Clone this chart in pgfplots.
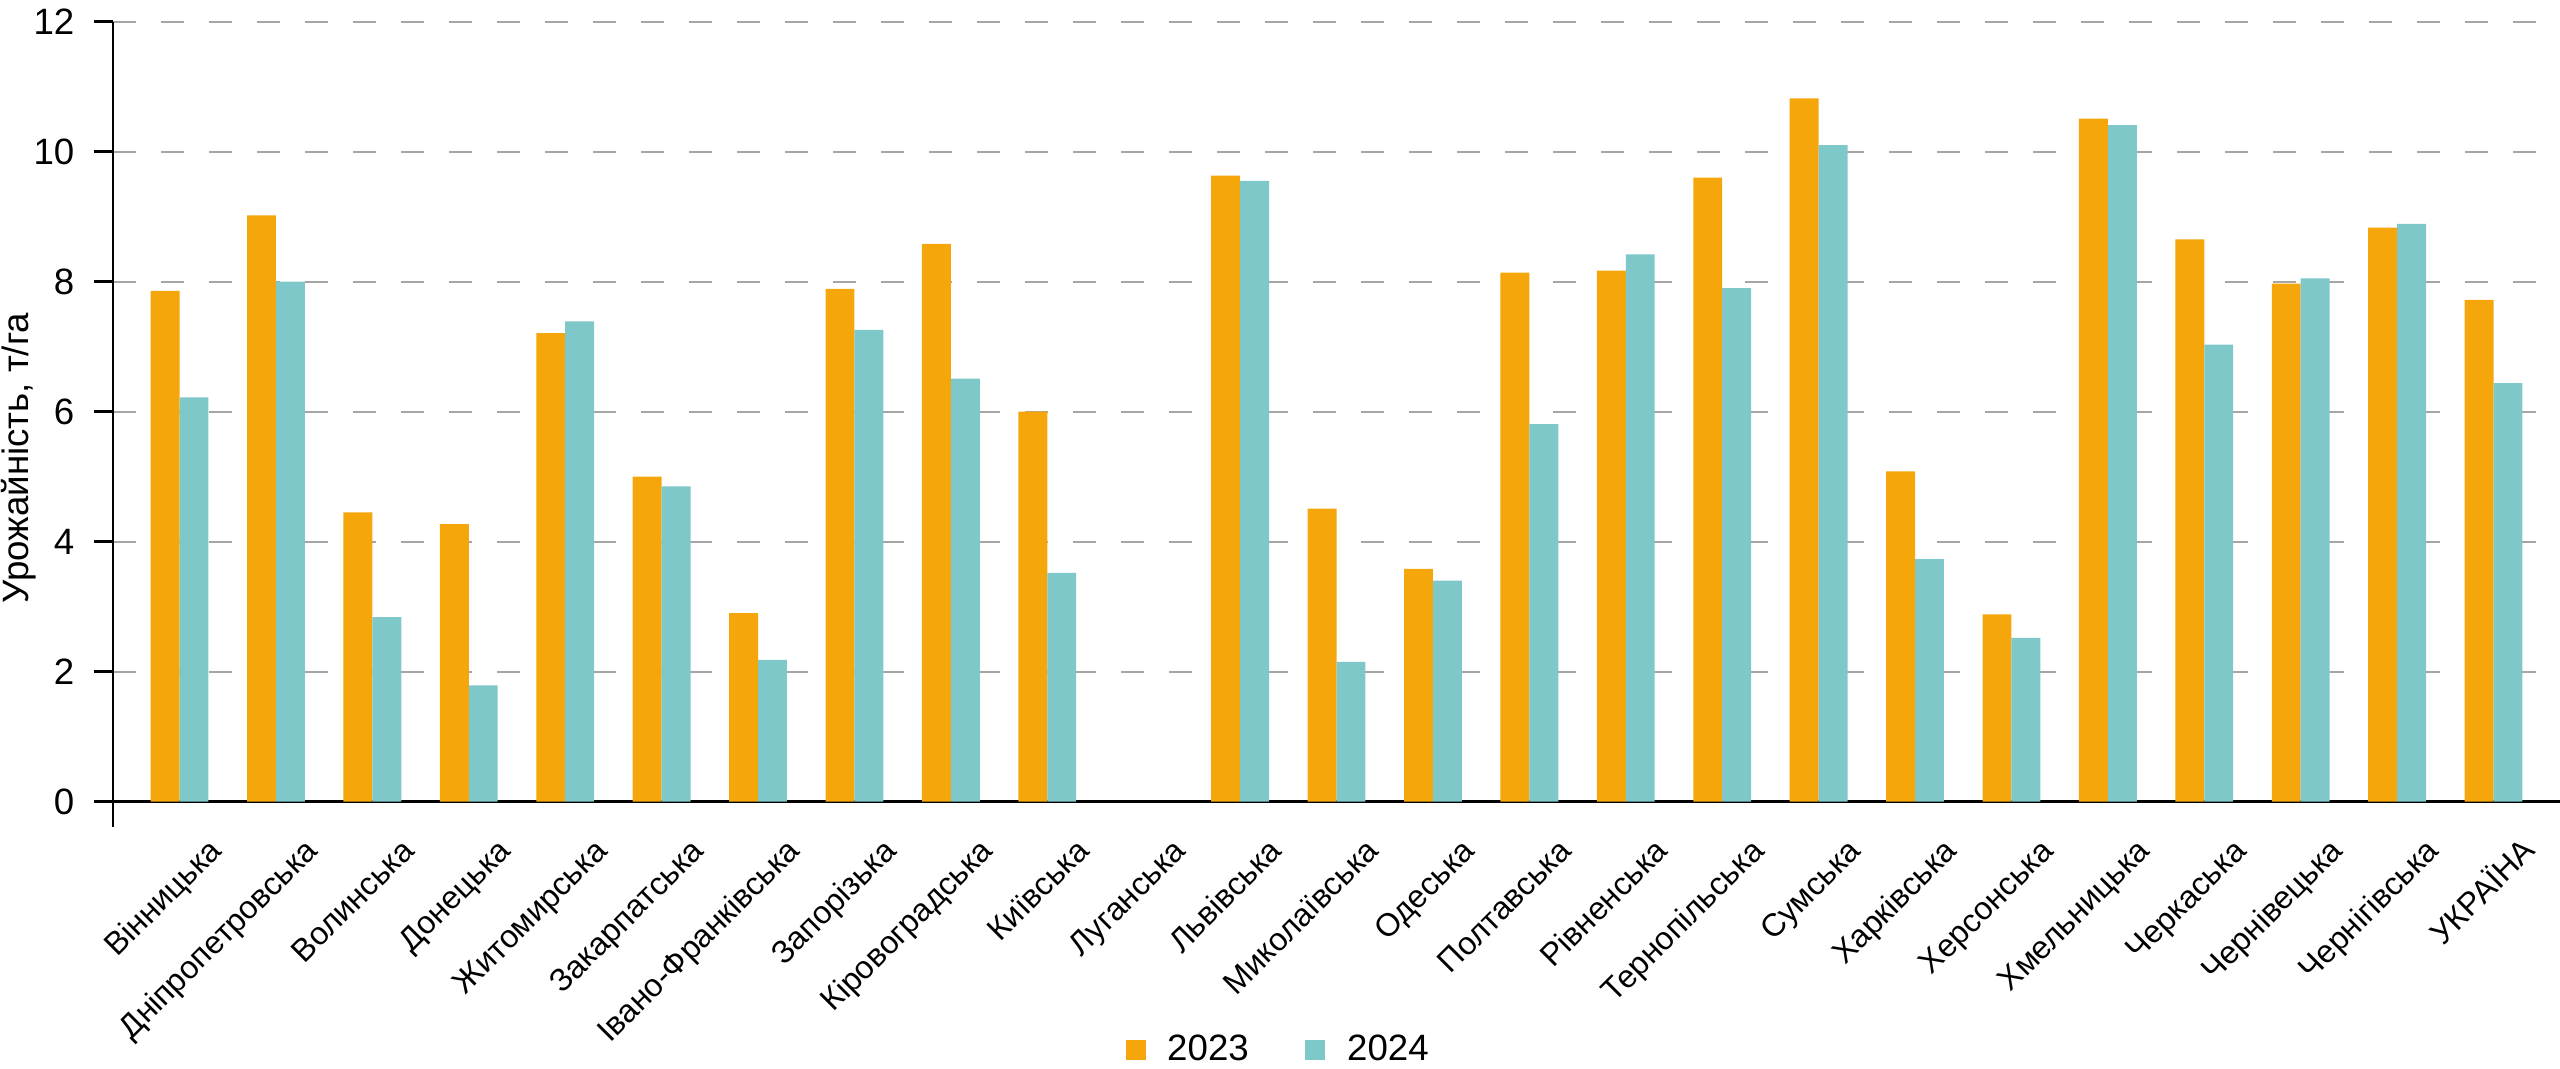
\documentclass[border=0pt]{standalone}
\usepackage{fontspec}
\setmainfont{Liberation Sans}
\usepackage{pgfplots}
\pgfplotsset{compat=1.18}
\usepackage{pgfplotstable}
\definecolor{c23}{RGB}{245,166,10}
\definecolor{c24}{RGB}{126,200,201}
\definecolor{gridc}{RGB}{165,165,165}

\pgfplotstableread{
x y
0 7.86
1 9.02
2 4.45
3 4.27
4 7.21
5 5.00
6 2.90
7 7.89
8 8.58
9 6.00
11 9.63
12 4.51
13 3.58
14 8.14
15 8.17
16 9.60
17 10.82
18 5.08
19 2.88
20 10.51
21 8.65
22 7.97
23 8.83
24 7.72
}\dataA

\pgfplotstableread{
x y
0 6.22
1 8.00
2 2.84
3 1.79
4 7.39
5 4.85
6 2.18
7 7.26
8 6.51
9 3.52
11 9.55
12 2.15
13 3.40
14 5.81
15 8.42
16 7.90
17 10.10
18 3.73
19 2.52
20 10.41
21 7.03
22 8.05
23 8.89
24 6.44
}\dataB

\newcommand{\lblfont}{\fontsize{11}{13}\selectfont}
\newcommand{\xlblfont}{\fontsize{9.6}{11.5}\selectfont}

\begin{document}
\begin{tikzpicture}
\begin{axis}[
  at={(0,0)}, anchor=south west,
  scale only axis, width=734.1pt, height=234pt,
  xmin=-0.69, xmax=24.69, ymin=0, ymax=12,
  ybar=0pt, bar width=0.3,
  axis lines=left,
  axis line style={-, line width=0.7pt, black},
  ytick={0,2,...,12},
  xtick={0.456,1.456,2.456,3.456,4.456,5.456,6.456,7.456,8.456,9.456,10.456,11.456,12.456,13.456,14.456,15.456,16.456,17.456,18.456,19.456,20.456,21.456,22.456,23.456,24.456},
  xticklabels={Вінницька,Дніпропетровська,Волинська,Донецька,Житомирська,Закарпатська,Івано-Франківська,Запорізька,Кіровоградська,Київська,Луганська,Львівська,Миколаївська,Одеська,Полтавська,Рівненська,Тернопільська,Сумська,Харківська,Херсонська,Хмельницька,Черкаська,Чернівецька,Чернігівська,УКРАЇНА},
  tick align=outside, major tick length=5.7pt,
  ytick style={line width=0.7pt, black},
  xtick style={draw=none},
  ymajorgrids,
  major grid style={gridc, line width=0.6pt, dash pattern=on 6.9pt off 7.5pt},
  /pgf/number format/assume math mode=true,
  yticklabel style={font=\lblfont, anchor=east, inner sep=0pt, xshift=-5.7pt},
  xticklabel style={font=\xlblfont, inner sep=0pt, yshift=-9.4pt, rotate=45, anchor=base east},
  label style={font=\lblfont},
  ylabel={Урожайність, т/га},
  ylabel style={at={(axis description cs:-0.0347,0.4406)}, anchor=base},
  legend columns=2,
  legend style={at={(0.4771,-0.3183)}, anchor=center, draw=none, fill=none,
    font=\lblfont, inner sep=0pt,
    /tikz/every odd column/.append style={column sep=4.5pt},
    /tikz/every even column/.append style={column sep=15pt}},
  legend image code/.code={\fill[#1] (0pt,-3pt) rectangle (6pt,3pt);},
]
\addplot[fill=c23, draw=none] table[x=x,y=y] {\dataA};
\addplot[fill=c24, draw=none] table[x=x,y=y] {\dataB};
\legend{2023,2024}
\end{axis}
\draw[line width=0.7pt, black] (0,0) -- (0,-7.6pt);
\pgfresetboundingbox
\path[use as bounding box] (-33.9pt,-80.2pt) rectangle (734.1pt,240.5pt);
\end{tikzpicture}
\end{document}
